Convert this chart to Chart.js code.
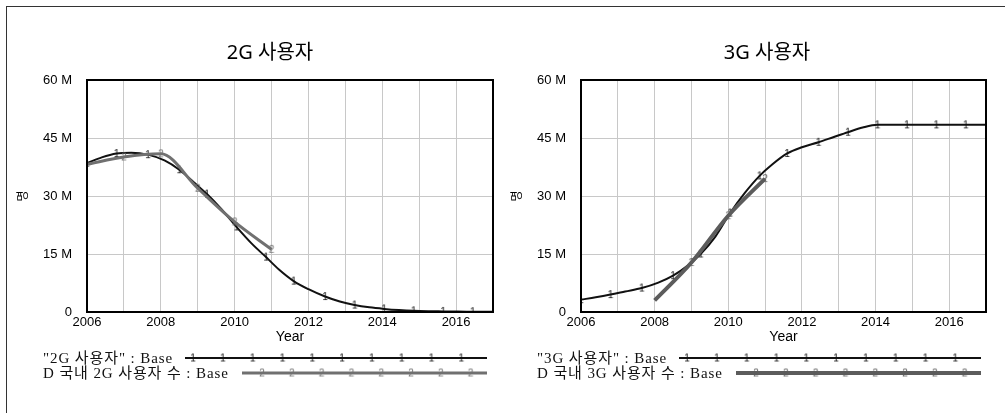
<!DOCTYPE html>
<html lang="ko">
<head>
  <meta charset="UTF-8">
  <title>2G / 3G 사용자</title>
  <script src="https://cdn.jsdelivr.net/npm/chart.js"></script>
  <style>
    body {
      margin: 0;
      background: #fff;
      width: 1005px;
      height: 413px;
      overflow: hidden;
      position: relative;
    }
    #frame {
      position: absolute;
      left: 6px;
      top: 6px;
      width: 1020px;
      height: 430px;
      border-left: 1px solid #333;
      border-top: 1px solid #333;
    }
    .panel { position: absolute; top: 0; width: 500px; height: 413px; }
    #left { left: 0; }
    #right { left: 494px; }
  </style>
</head>
<body>
  <div id="frame"></div>
  <div class="panel" id="left"><canvas id="chart2g" width="500" height="413"></canvas></div>
  <div class="panel" id="right"><canvas id="chart3g" width="500" height="413"></canvas></div>
  <script>
    // 시뮬레이션 시간축 (년)
    const simYears = [2006, 2006.4, 2006.8, 2007.2, 2007.65, 2008.1, 2008.5, 2008.9, 2009.25, 2009.65,
                      2010.05, 2010.45, 2010.85, 2011.2, 2011.6, 2012.0, 2012.45, 2012.85, 2013.25, 2013.65,
                      2014.05, 2014.45, 2014.85, 2015.25, 2015.65, 2016.05, 2016.45, 2017];
    // "2G 사용자" : Base (백만 명)
    const sim2G = [38.5, 40.0, 41.0, 41.2, 40.7, 39.2, 36.8, 33.5, 30.5, 26.5,
                   22.0, 17.8, 14.2, 11.0, 8.0, 5.9, 4.0, 2.7, 1.8, 1.2,
                   0.8, 0.5, 0.3, 0.2, 0.15, 0.1, 0.08, 0.05];
    // "3G 사용자" : Base (백만 명)
    const sim3G = [3.2, 3.8, 4.5, 5.3, 6.2, 7.6, 9.4, 12.0, 15.0, 19.5,
                   25.6, 30.8, 35.2, 38.2, 41.0, 42.6, 43.9, 45.2, 46.5, 47.7,
                   48.4, 48.4, 48.4, 48.4, 48.4, 48.4, 48.4, 48.4];
    // 실제 데이터 (D 국내 ... 수)
    const data2GYears = [2006, 2007, 2008, 2009, 2010, 2011];
    const data2G = [38.2, 40.1, 40.9, 32.0, 23.3, 16.2];
    const data3GYears = [2008, 2009, 2010, 2011];
    const data3G = [3.0, 12.8, 24.9, 34.5];

    const yTicks = [0, 15, 30, 45, 60];

    // 선 위의 숫자 마커 (1, 2)
    function glyph(ch, color) {
      const c = document.createElement('canvas');
      c.width = 8; c.height = 11;
      const g = c.getContext('2d');
      g.font = '10px "Liberation Sans", sans-serif';
      g.fillStyle = color;
      g.textAlign = 'center';
      g.textBaseline = 'middle';
      g.fillText(ch, 4, 6);
      return c;
    }

    // 테두리, 제목, 범례
    const panelDeco = {
      id: 'panelDeco',
      afterDraw(chart, args, opts) {
        const { ctx, chartArea: a } = chart;
        ctx.save();
        ctx.strokeStyle = '#000';
        ctx.lineWidth = 2;
        ctx.strokeRect(a.left, a.top, a.right - a.left, a.bottom - a.top);

        ctx.fillStyle = '#000';
        ctx.font = '20px "Noto Sans", "Noto Sans CJK KR", sans-serif';
        ctx.textAlign = 'center';
        ctx.textBaseline = 'middle';
        ctx.fillText(opts.title, opts.titleX, 53);

        const rows = [
          { y: 358, start: 185, first: 193 },
          { y: 373, start: 242, first: 262 }
        ];
        chart.data.datasets.forEach((ds, i) => {
          const r = rows[i];
          ctx.font = '15px "Liberation Serif", "Noto Sans CJK KR", serif';
          ctx.letterSpacing = '0.9px';
          ctx.textAlign = 'left';
          ctx.fillStyle = '#111';
          ctx.fillText(ds.label, 43, r.y + 1);
          ctx.letterSpacing = '0px';
          ctx.strokeStyle = ds.borderColor;
          ctx.lineWidth = ds.borderWidth;
          ctx.beginPath();
          ctx.moveTo(r.start, r.y);
          ctx.lineTo(487, r.y);
          ctx.stroke();
          for (let x = r.first; x < 484; x += 29.8) {
            ctx.drawImage(ds.pointStyle, x - 4, r.y - 5.5);
          }
        });
        ctx.restore();
      }
    };

    function buildChart(id, title, simValues, obsYears, obsValues, obsColor, obsWidth, rightPad, titleX) {
      return new Chart(document.getElementById(id), {
        type: 'line',
        data: {
          datasets: [
            {
              label: '"' + title + '" : Base',
              data: simYears.map((x, i) => ({ x: x, y: simValues[i] })),
              borderColor: '#111',
              borderWidth: 2,
              pointStyle: glyph('1', '#111'),
              pointRadius: c => (c.dataIndex % 2 === 0 ? 4 : 0),
              cubicInterpolationMode: 'monotone',
              order: 1
            },
            {
              label: 'D 국내 ' + title + ' 수 : Base',
              data: obsYears.map((x, i) => ({ x: x, y: obsValues[i] })),
              borderColor: obsColor,
              borderWidth: obsWidth,
              pointStyle: glyph('2', obsColor),
              pointRadius: c => (c.dataIndex === 0 ? 0 : 4),
              cubicInterpolationMode: 'monotone',
              order: 0
            }
          ]
        },
        options: {
          responsive: false,
          animation: false,
          events: [],
          layout: { padding: { left: 0, right: rightPad, top: 80, bottom: 61 } },
          plugins: {
            legend: { display: false },
            title: { display: false },
            tooltip: { enabled: false },
            panelDeco: { title: title, titleX: titleX }
          },
          scales: {
            x: {
              type: 'linear',
              min: 2006,
              max: 2017,
              ticks: {
                stepSize: 1,
                autoSkip: false,
                maxRotation: 0,
                padding: 3,
                color: '#000',
                font: { family: 'Liberation Sans', size: 13 },
                callback: v => (v % 2 === 0 ? String(v) : '')
              },
              grid: { color: '#c8c8c8', drawTicks: false },
              border: { display: false },
              title: {
                display: true,
                text: 'Year',
                color: '#000',
                font: { family: 'Liberation Sans', size: 14 },
                padding: { top: 0, bottom: 6 }
              },
              afterFit: s => { s.height = 40; }
            },
            y: {
              min: 0,
              max: 60,
              afterBuildTicks: s => { s.ticks = yTicks.map(v => ({ value: v })); },
              ticks: {
                padding: 15,
                color: '#000',
                font: { family: 'Liberation Sans', size: 13 },
                callback: v => (v === 0 ? '0' : v + ' M')
              },
              grid: { color: '#c8c8c8', drawTicks: false },
              border: { display: false },
              title: {
                display: true,
                text: '명',
                color: '#000',
                font: { family: 'Noto Sans CJK KR', size: 12 },
                padding: { top: 15, bottom: 0 }
              },
              afterFit: s => { s.width = 87; }
            }
          }
        },
        plugins: [panelDeco]
      });
    }

    buildChart('chart2g', '2G 사용자', sim2G, data2GYears, data2G, '#707070', 3, 6, 270);
    buildChart('chart3g', '3G 사용자', sim3G, data3GYears, data3G, '#5c5c5c', 4, 4, 273);
  </script>
</body>
</html>
